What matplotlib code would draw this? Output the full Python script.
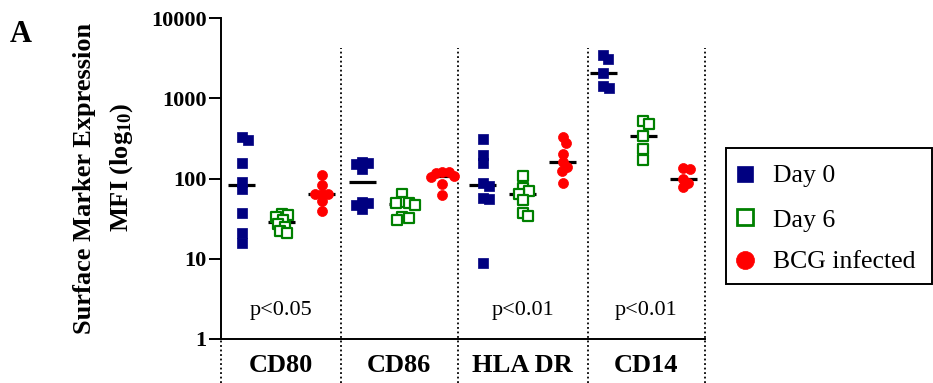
import numpy as np
import matplotlib
matplotlib.use("Agg")
import matplotlib.pyplot as plt
from matplotlib.lines import Line2D
from matplotlib.patches import Rectangle

plt.rcParams['font.family'] = ['Liberation Serif', 'DejaVu Serif']
plt.rcParams['mathtext.fontset'] = 'custom'
plt.rcParams['mathtext.rm'] = 'Liberation Serif:bold'
plt.rcParams['mathtext.bf'] = 'Liberation Serif:bold'
plt.rcParams['mathtext.default'] = 'rm'

# ---------------- data ----------------
groups = ["CD80", "CD86", "HLA DR", "CD14"]
series_names = ["Day 0", "Day 6", "BCG infected"]
p_labels = ["p<0.05", "", "p<0.01", "p<0.01"]
ytick_vals = [1, 10, 100, 1000, 10000]
ytick_labels = ["1", "10", "100", "1000", "10000"]

cd80_day0 = [326, 302, 155, 91, 75, 37, 21, 15.6]
cd80_day6 = [36, 35, 33, 30, 27, 25, 22, 21]
cd80_bcg = [111, 83, 65, 65, 65, 53, 39]
cd86_day0 = [162, 155, 152, 130, 51, 49, 47, 42]
cd86_day6 = [64, 51, 50, 49, 47, 33, 32, 30]
cd86_bcg = [121, 119, 116, 107, 105, 85, 62]
hla_day0 = [308, 196, 157, 87, 81, 57, 55, 8.8]
hla_day6 = [108, 76, 70, 65, 54, 37.5, 34]
hla_bcg = [326, 275, 200, 162, 140, 125, 87]
cd14_day0 = [3460, 3060, 2050, 1420, 1330]
cd14_day6 = [520, 478, 341, 231, 170]
cd14_bcg = [136, 131, 98, 87, 79]

data = [
    [cd80_day0, cd80_day6, cd80_bcg],
    [cd86_day0, cd86_day6, cd86_bcg],
    [hla_day0, hla_day6, hla_bcg],
    [cd14_day0, cd14_day6, cd14_bcg],
]

# ---------------- styles ----------------
NAVY = "#000080"
GREEN = "#008000"
RED = "#ff0000"
styles = [
    dict(marker='s', facecolor=NAVY, edgecolor=NAVY, linewidths=0.5, s=46),
    dict(marker='s', facecolor='white', edgecolor=GREEN, linewidths=1.6, s=48),
    dict(marker='o', facecolor=RED, edgecolor=RED, linewidths=0.5, s=52),
]

W, H = 933, 383
fig = plt.figure(figsize=(W / 100, H / 100), dpi=100)
ax = fig.add_axes([221 / W, (H - 339) / H, (705 - 221) / W, (339 - 18) / H])
ax.set_yscale('log')
ax.set_ylim(1, 10000)
xl, xr = -0.515, 11.54
ax.set_xlim(xl, xr)
bounds = [xl, 2.47, 5.38, 8.62, xr]


def swarm_offsets(xc, vals, diam_px):
    """simple beeswarm: returns x offsets in data units"""
    pts = ax.transData.transform(np.column_stack([np.full(len(vals), xc), vals]))
    ypx = pts[:, 1]
    order = np.argsort(-ypx)
    placed = []
    offs = np.zeros(len(vals))
    for i in order:
        intervals = []
        for (dxp, yp) in placed:
            dy = ypx[i] - yp
            if abs(dy) < diam_px:
                w = np.sqrt(diam_px ** 2 - dy ** 2)
                intervals.append((dxp - w, dxp + w))
        cands = [0.0] + [a for a, b in intervals] + [b for a, b in intervals]
        cands = sorted(cands, key=lambda c: (abs(c), -c))
        chosen = 0.0
        for c in cands:
            if all(not (a + 1e-6 < c < b - 1e-6) for a, b in intervals):
                chosen = c
                break
        offs[i] = chosen
        placed.append((chosen, ypx[i]))
    px_per_unit = ax.transData.transform([[1, 1]])[0, 0] - ax.transData.transform([[0, 1]])[0, 0]
    return offs / px_per_unit


for g, grp in enumerate(data):
    for k, vals in enumerate(grp):
        xc = 3 * g + k
        vals = np.asarray(vals, dtype=float)
        offs = swarm_offsets(xc, vals, 6.5)
        ax.scatter(xc + offs, vals, zorder=4, clip_on=False, **styles[k])
        med = np.median(vals)
        ax.hlines(med, xc - 0.336, xc + 0.336, colors='black', lw=2.3, zorder=3)

# axes styling
for sp in ['top', 'right']:
    ax.spines[sp].set_visible(False)
for sp in ['left', 'bottom']:
    ax.spines[sp].set_linewidth(1.4)
ax.set_xticks([])
ax.minorticks_off()
ax.set_yticks(ytick_vals)
ax.set_yticklabels(ytick_labels, fontsize=16, fontweight='bold')
ax.tick_params(axis='y', which='major', length=8.5, width=1.4, direction='out', pad=2)
ax.tick_params(axis='y', which='minor', length=0)

# dotted separators
ytop = (339 - 48) / 321
ybot = (339 - 383) / 321
for i, b in enumerate(bounds):
    top = 0 if i == 0 else ytop
    ax.plot([b, b], [ybot, top], transform=ax.get_xaxis_transform(), color='black',
            lw=1.3, linestyle=(0, (1, 1.5)), clip_on=False, zorder=1)

# group labels and p values
for g, name in enumerate(groups):
    xm = (bounds[g] + bounds[g + 1]) / 2
    ax.text(xm, (339 - 371.5) / 321, name, transform=ax.get_xaxis_transform(),
            ha='center', va='baseline', fontsize=19, fontweight='bold')
    if p_labels[g]:
        ax.text(xm, (339 - 315) / 321, p_labels[g], transform=ax.get_xaxis_transform(),
                ha='center', va='baseline', fontsize=16)


def fx(px):
    return px / W


def fy(py):
    return (H - py) / H


fig.text(fx(84.5), fy(178), "Surface Marker Expression", rotation=90, ha='center', va='center',
         fontsize=19, fontweight='bold')
fig.text(fx(122), fy(167), r"MFI (log$_{10}$)", rotation=90, ha='center', va='center',
         fontsize=19, fontweight='bold')

fig.text(fx(21), fy(35), "A", ha='center', va='center', fontsize=22, fontweight='bold')

# legend box
fig.add_artist(Rectangle((fx(726), fy(284)), fx(932) - fx(726), fy(148) - fy(284),
                         transform=fig.transFigure, fill=False, lw=1.4, edgecolor='black'))
leg_marker = [
    dict(marker='s', markersize=12, markerfacecolor=NAVY, markeredgecolor=NAVY, markeredgewidth=0.5),
    dict(marker='s', markersize=12, markerfacecolor='white', markeredgecolor=GREEN, markeredgewidth=2.0),
    dict(marker='o', markersize=13, markerfacecolor=RED, markeredgecolor=RED, markeredgewidth=0.5),
]
leg_y = [174, 217, 260]
leg_base = [181.7, 226.7, 268]
for k, name in enumerate(series_names):
    fig.add_artist(Line2D([fx(745)], [fy(leg_y[k])], transform=fig.transFigure, linestyle='none',
                          **leg_marker[k]))
    fig.text(fx(773), fy(leg_base[k]), name, ha='left', va='baseline', fontsize=18.5)

fig.savefig("out.png", dpi=100)
